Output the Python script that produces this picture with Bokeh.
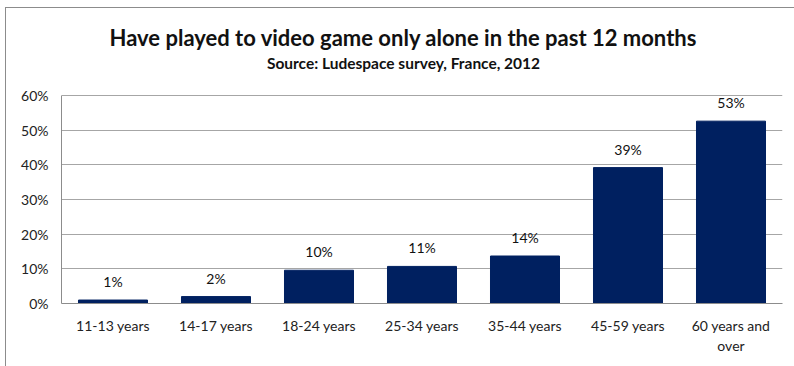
from bokeh.plotting import figure
from bokeh.models import ColumnDataSource, Label, NumeralTickFormatter, FixedTicker, Range1d
from bokeh.embed import file_html
from bokeh.resources import INLINE

title_text = "Have played to video game only alone in the past 12 months"
subtitle_text = "Source: Ludespace survey, France, 2012"
categories = ["11-13 years", "14-17 years", "18-24 years", "25-34 years",
              "35-44 years", "45-59 years", "60 years and\nover"]
values = [0.01, 0.02, 0.096, 0.107, 0.137, 0.392, 0.526]
labels = ["1%", "2%", "10%", "11%", "14%", "39%", "53%"]
y_ticks = [0, 0.1, 0.2, 0.3, 0.4, 0.5, 0.6]

FONT = "Lato"
# layout (pixels): frame spans canvas rows 0..303, value axis 0..0.6 covers 208 px
FRAME_H, AXIS_PX = 303, 208
Y_MAX = y_ticks[-1]
y_top = Y_MAX * FRAME_H / AXIS_PX

def y_at(px):  # canvas row -> data y
    return (FRAME_H - px) / AXIS_PX * Y_MAX

src = ColumnDataSource(dict(cat=categories, val=values, lab=labels))

p = figure(x_range=categories, y_range=Range1d(0, y_top),
           frame_width=721, frame_height=FRAME_H,
           output_backend="svg", toolbar_location=None,
           min_border_left=61, min_border_right=12, min_border_top=0, min_border_bottom=63)

p.vbar(x="cat", top="val", width=0.67, source=src, fill_color="#002060", line_color="#002060")
p.text(x="cat", y="val", text="lab", source=src, text_align="center", text_baseline="bottom",
       y_offset=-10, text_font_size="14px", text_color="#111111", text_font={"value": FONT})

x_mid = (403 - 61) / 103.0
p.add_layout(Label(x=x_mid, y=y_at(37), text=title_text,
                   text_align="center", text_baseline="middle", text_font=FONT,
                   text_font_size="22px", text_font_style="bold", text_color="#111111"))
p.add_layout(Label(x=x_mid, y=y_at(62), text=subtitle_text,
                   text_align="center", text_baseline="middle", text_font=FONT,
                   text_font_size="15.5px", text_font_style="bold", text_color="#111111"))

p.yaxis.ticker = FixedTicker(ticks=y_ticks)
p.yaxis.formatter = NumeralTickFormatter(format="0%")
p.yaxis.bounds = (0, Y_MAX)
p.ygrid.bounds = (0, Y_MAX)
for ax in (p.xaxis[0], p.yaxis[0]):
    ax.axis_line_color = "#8c8c8c"
    ax.major_tick_line_color = None
    ax.minor_tick_line_color = None
    ax.major_tick_out = 0
    ax.major_tick_in = 0
    ax.minor_tick_out = 0
    ax.minor_tick_in = 0
    ax.major_label_text_font = FONT
    ax.major_label_text_font_size = "14px"
    ax.major_label_text_color = "#222222"
p.xaxis.major_label_standoff = 13
p.yaxis.major_label_standoff = 13
p.xgrid.grid_line_color = None
p.ygrid.grid_line_color = "#a6a6a6"
p.outline_line_color = None
p.x_range.range_padding = 0
p.border_fill_color = None
p.background_fill_color = None
p.styles = {"background": "linear-gradient(#8c8c8c,#8c8c8c) 5px 7px / 1px 400px no-repeat, "
                          "linear-gradient(#8c8c8c,#8c8c8c) 5px 7px / 800px 1px no-repeat, white"}

open("out.html", "w").write(file_html(p, INLINE))
